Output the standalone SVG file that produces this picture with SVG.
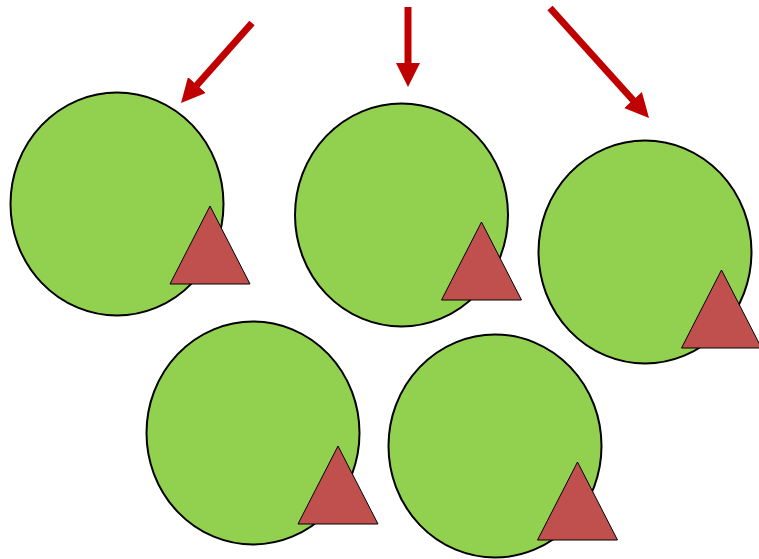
<svg xmlns="http://www.w3.org/2000/svg" width="759" height="559" viewBox="0 0 759 559">
<style>
.c{fill:#92D050;stroke:#000;stroke-width:2}
.t{fill:#C0504D;stroke:#000;stroke-width:1}
.a{stroke:#C00000;stroke-width:7;fill:none}
</style>
<defs>
<marker id="ah" viewBox="0 0 24 24" refX="12" refY="12" markerWidth="24" markerHeight="24" markerUnits="userSpaceOnUse" orient="auto">
<path d="M0,0 L24,12 L0,24 z" fill="#C00000"/>
</marker>
</defs>
<rect width="759" height="559" fill="#fff"/>
<g id="n1"><ellipse class="c" cx="117" cy="204" rx="106.5" ry="111.5"/><polygon class="t" points="210,206 250,284 170,284"/></g>
<g id="n2"><ellipse class="c" cx="401.5" cy="215" rx="106.5" ry="111.5"/><polygon class="t" points="481.5,222 521.5,300 441.5,300"/></g>
<g id="n3"><ellipse class="c" cx="645" cy="252" rx="106.5" ry="111.5"/><polygon class="t" points="721.5,270 761.5,348 681.5,348"/></g>
<g id="n4"><ellipse class="c" cx="253" cy="433" rx="106.5" ry="111.5"/><polygon class="t" points="338,446 378,524 298,524"/></g>
<g id="n5"><ellipse class="c" cx="495" cy="446" rx="106.5" ry="111.5"/><polygon class="t" points="577.5,462 617.5,540 537.5,540"/></g>
<g id="connectors">
<line class="a" x1="252" y1="23" x2="189" y2="94" marker-end="url(#ah)"/>
<line class="a" x1="408" y1="7" x2="408" y2="75" marker-end="url(#ah)"/>
<line class="a" x1="550" y1="8" x2="641" y2="109" marker-end="url(#ah)"/>
</g>
</svg>
